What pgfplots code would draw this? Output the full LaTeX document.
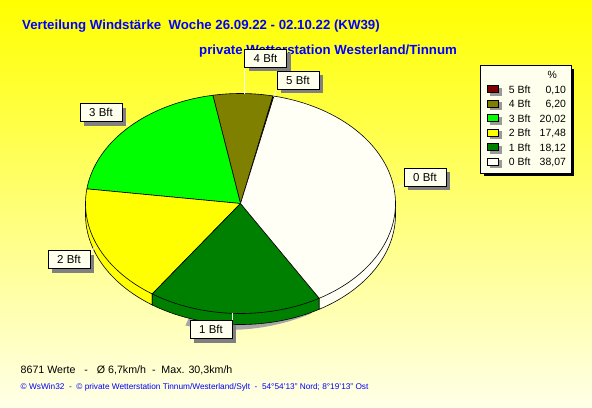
\documentclass[border=0pt]{standalone}
\usepackage{pgfplots}
\pgfplotsset{compat=1.18}
\usepackage{pgfplotstable}
\usepackage{fontspec}
\setmainfont{Liberation Sans}
\usetikzlibrary{shadows}

\definecolor{bft5}{RGB}{128,0,0}
\definecolor{bft4}{RGB}{128,128,0}
\definecolor{bft3}{RGB}{0,255,0}
\definecolor{bft2}{RGB}{255,255,0}
\definecolor{bft1}{RGB}{0,128,0}
\definecolor{bft0}{RGB}{255,255,246}
\definecolor{bgtop}{RGB}{255,255,0}
\definecolor{bgbot}{RGB}{255,255,232}
\definecolor{boxfill}{RGB}{255,255,238}
\definecolor{titleblue}{RGB}{0,0,255}
\definecolor{shadowgray}{RGB}{128,128,128}

% wind force distribution (percent), counter-clockwise order starting at 77.6 deg
\pgfplotstableread{
name pct lab
5 0.10 0,10
4 6.20 6,20
3 20.02 20,02
2 17.48 17,48
1 18.12 18,12
0 38.07 38,07
}\pietable

\newcommand\cx{240.5}
\newcommand\cy{203.5}
\newcommand\rx{155}
\newcommand\ry{110}
\newcommand\dep{11}
\newcommand\startang{77.6}

\tikzset{lbl/.style={draw=black, line width=0.6bp, fill=boxfill, minimum width=42bp, minimum height=18bp, inner sep=0pt,
  font=\fontsize{11.5}{13}\selectfont,
  drop shadow={shadow xshift=4bp, shadow yshift=-4bp, fill=shadowgray, opacity=1}}}

\begin{document}
\begin{tikzpicture}[x=1bp,y=1bp]
\shade[top color=bgtop, bottom color=bgbot] (0,0) rectangle (592,407);
\begin{axis}[at={(0,0)}, anchor=south west, width=592bp, height=407bp, scale only axis,
  hide axis, xmin=0, xmax=592, ymin=0, ymax=407, y dir=reverse, clip=false,
  legend image code/.code={\path (0bp,0bp);
     \fill[black!40] (7bp,-5bp) rectangle (18bp,2bp);
     \draw[#1, line width=0.6bp] (4bp,-2.5bp) rectangle (15bp,4.5bp);},
  legend style={at={(axis cs:480,65)}, anchor=north west, draw=black, line width=0.6bp,
    fill=boxfill, font=\fontsize{10.5}{12}\selectfont, inner xsep=3bp, inner ysep=3bp,
    row sep=0pt, column sep=5bp,
    nodes={inner sep=2bp, text height=8.3bp, text depth=2.2bp}},
  legend cell align=left]

% legend shadow
\fill[black] (axis cs:484,69) rectangle (axis cs:574,176);

% shadow under the front of the pie
\addplot[forget plot, fill=black!35, draw=none, domain=248:296, samples=40, variable=\t]
  ({\cx+\rx*cos(t)+3},{\cy-\ry*sin(t)+\dep+9*(296-t)/48}) -- (axis cs:\cx,\cy) -- cycle;

% side walls
\let\cum\startang
\pgfplotsforeachungrouped \i in {0,...,5}{%
  \pgfplotstablegetelem{\i}{name}\of\pietable \let\nm\pgfplotsretval
  \pgfplotstablegetelem{\i}{pct}\of\pietable \let\pc\pgfplotsretval
  \pgfmathsetmacro\angA{\cum}%
  \pgfmathsetmacro\angB{\cum+3.6*\pc}%
  \pgfmathsetmacro\sideLo{max(\angA,180)}%
  \pgfmathsetmacro\sideHi{min(\angB,360)}%
  \pgfmathtruncatemacro\vis{\sideHi>\sideLo+0.01}%
  \ifnum\vis=1
    \pgfmathsetmacro\xl{\cx+\rx*cos(\sideLo)}%
    \pgfmathsetmacro\yl{\cy-\ry*sin(\sideLo)}%
    \pgfmathsetmacro\xh{\cx+\rx*cos(\sideHi)}%
    \pgfmathsetmacro\yh{\cy-\ry*sin(\sideHi)}%
    \edef\temp{\noexpand\addplot[forget plot, fill=bft\nm, draw=black, line width=0.6bp,
      domain=\sideLo:\sideHi, samples=60, variable=\noexpand\t]
      ({\cx+\rx*cos(\noexpand\t)},{\cy-\ry*sin(\noexpand\t)+\dep})
      -- (axis cs:\xh,\yh) -- (axis cs:\cx,\cy) -- (axis cs:\xl,\yl) -- cycle;}%
    \temp
  \fi
  \global\let\cum\angB
}

% legend header
\addlegendimage{empty legend}
\addlegendentry{\makebox[57bp][r]{\%\hspace{9bp}}}

% top faces
\let\cum\startang
\pgfplotsforeachungrouped \i in {0,...,5}{%
  \pgfplotstablegetelem{\i}{name}\of\pietable \let\nm\pgfplotsretval
  \pgfplotstablegetelem{\i}{pct}\of\pietable \let\pc\pgfplotsretval
  \pgfplotstablegetelem{\i}{lab}\of\pietable \let\lb\pgfplotsretval
  \pgfmathsetmacro\angA{\cum}%
  \pgfmathsetmacro\angB{\cum+3.6*\pc}%
  \edef\temp{\noexpand\addplot[fill=bft\nm, draw=black, line width=0.6bp,
      domain=\angA:\angB, samples=60, variable=\noexpand\t]
      ({\cx+\rx*cos(\noexpand\t)},{\cy-\ry*sin(\noexpand\t)})
      -- (axis cs:\cx,\cy) -- cycle;
    \noexpand\addlegendentry{\noexpand\makebox[25bp][l]{\nm\space Bft}\noexpand\makebox[32bp][r]{\lb}}}%
  \temp
  \global\let\cum\angB
}

% titles
\node[anchor=base west, text=titleblue, font=\fontsize{13.3}{15}\selectfont\bfseries, inner sep=0pt]
  at (axis cs:22,29.5) {Verteilung Windstärke\ \ Woche 26.09.22 - 02.10.22 (KW39)};
\node[anchor=base west, text=titleblue, font=\fontsize{13.3}{15}\selectfont\bfseries, inner sep=0pt]
  at (axis cs:199,54) {private Wetterstation Westerland/Tinnum};

% leader lines
\draw[white, line width=0.8bp] (axis cs:244,67) -- (axis cs:244,93.5);
\draw[white, line width=0.8bp] (axis cs:277,89) -- (axis cs:273.5,96.5);
\draw[white, line width=0.8bp] (axis cs:123,121) -- (axis cs:130,126);
\draw[white, line width=0.8bp] (axis cs:404,185) -- (axis cs:396,188);
\draw[white, line width=0.8bp] (axis cs:91,251) -- (axis cs:96,247);
\draw[white, line width=0.8bp] (axis cs:232,313) -- (axis cs:232,320);

% slice labels
\node[lbl] at (axis cs:265.5,58) {4 Bft};
\node[lbl] at (axis cs:298,80) {5 Bft};
\node[lbl] at (axis cs:101,112.5) {3 Bft};
\node[lbl] at (axis cs:425,177) {0 Bft};
\node[lbl] at (axis cs:69,259.5) {2 Bft};
\node[lbl] at (axis cs:211,329.5) {1 Bft};

% footer
\node[anchor=base west, font=\fontsize{10.7}{12}\selectfont, inner sep=0pt]
  at (axis cs:20.5,373) {8671 Werte\ \ \ -\ \ \ Ø 6,7km/h\ \ -\ \ Max. 30,3km/h};
\node[anchor=base west, text=titleblue, font=\fontsize{8.3}{10}\selectfont, inner sep=0pt]
  at (axis cs:20.5,389) {© WsWin32\ \ -\ \ © private Wetterstation Tinnum/Westerland/Sylt\ \ -\ \ 54°54'13" Nord; 8°19'13" Ost};
\end{axis}
\pgfresetboundingbox
\useasboundingbox (0,0) rectangle (592,407);
\end{tikzpicture}
\end{document}
